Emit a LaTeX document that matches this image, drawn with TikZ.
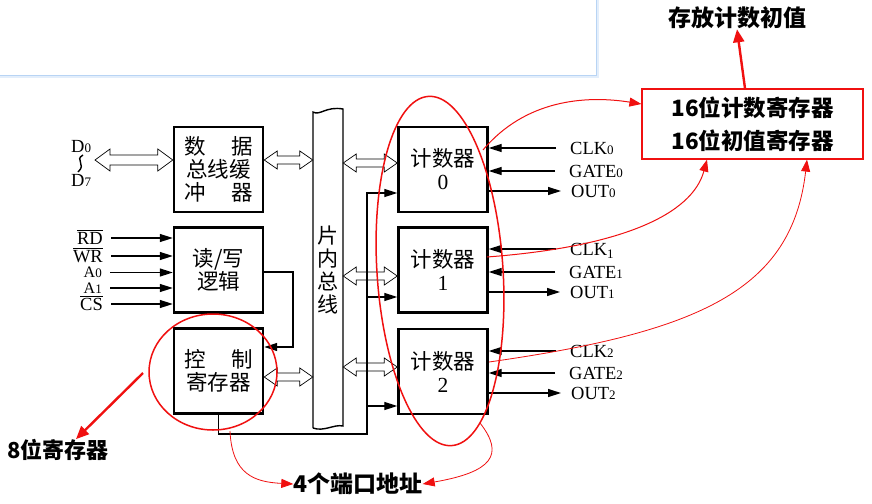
\documentclass[tikz,border=0pt]{standalone}
\usepackage{fontspec}
\setmainfont{Liberation Serif}
\newfontfamily\cjk{Noto Sans CJK SC}
\usetikzlibrary{arrows.meta,calc}
\definecolor{panelblue}{HTML}{B8D4F4}
\definecolor{myred}{HTML}{F01010}
\newcommand\sdig[1]{{\fontsize{13}{13}\selectfont #1}}
% #1 start, #2 end, #3 head length, #4 head half-height, #5 shaft half-height
\newcommand\dblarr[5]{%
  \draw[fill=white,line width=0.7pt] let \p1=#1, \p2=#2 in
   (\p1) -- ++(#3,#4) -- (\x1+#3,\y1+#5) -- (\x2-#3,\y1+#5) -- (\x2-#3,\y1+#4)
   -- (\x2,\y1) -- (\x2-#3,\y1-#4) -- (\x2-#3,\y1-#5) -- (\x1+#3,\y1-#5) -- (\x1+#3,\y1-#4) -- cycle;}
\begin{document}
\begin{tikzpicture}[x=1pt,y=-1pt,
  blk/.style={draw,line width=2.4pt,minimum width=89pt,minimum height=85pt,inner sep=0,
     font=\cjk\fontsize{21.5}{23}\selectfont,align=center},
  lab/.style={font=\fontsize{18.5}{18.5}\selectfont,inner sep=0,text height=12pt,text depth=0pt},
  arr/.style={line width=1.3pt,-{Triangle[length=13pt,width=8pt]}},
  redc/.style={myred,line width=1.5pt},
  redarr/.style={myred,line width=1pt,-{Triangle[length=12pt,width=9pt]}},
  redthick/.style={myred,line width=2.4pt,-{Triangle[length=13pt,width=11pt]}},
  note/.style={font=\cjk\bfseries\fontsize{23}{26}\selectfont,inner sep=0}]
\useasboundingbox (0,0) rectangle (872,503);
\fill[white] (0,0) rectangle (872,503);
% top panel
\fill[panelblue!40] (-5,-5) rectangle (599,78);
\draw[panelblue,fill=white,line width=1pt] (-5,-5) rectangle (596,75);

% left blocks
\node[blk] (buf) at (218.5,169.5) {\makebox[3.2em]{数\hfill 据}\\总线缓\\\makebox[3.2em]{冲\hfill 器}};
\node[blk] (rw) at (218.5,270) {读/写\\逻辑};
\node[blk] (ctrl) at (218.5,371) {\makebox[3.2em]{控\hfill 制}\\寄存器};
% counters
\node[blk] (c0) at (443,169.5) {计数器\\{\rmfamily 0}};
\node[blk] (c1) at (443,270) {计数器\\{\rmfamily 1}};
\node[blk] (c2) at (443,371.5) {计数器\\{\rmfamily 2}};

% bus
\node[minimum width=30pt,minimum height=316pt,inner sep=0] (bus) at (328,270) {};
\draw[line width=1.4pt,fill=white] (313,428) -- (313,112) .. controls (320,116) and (326,106) .. (343,109)
  -- (343,426) .. controls (334,424) and (324,432) .. (313,428);
\node[font=\cjk\fontsize{21}{23}\selectfont,align=center,inner sep=0] (bustext) at (bus) {片\\内\\总\\线};

% D0-D7
\node[lab,anchor=west] (d0) at (71,146) {D\sdig{0}};
\node[lab,anchor=west] (d7) at (71,180) {D\sdig{7}};
\draw[line width=1.4pt] (83,155) .. controls (74,160) and (87,164) .. (78,172);
\coordinate (dl) at (95,160);
\dblarr{(dl)}{(buf.west |- dl)}{15pt}{11pt}{5pt}

% hollow arrows to bus
\dblarr{(buf.east |- 0,160)}{(bus.west |- 0,160)}{13pt}{9pt}{4pt}
\dblarr{(ctrl.east |- 0,377)}{(bus.west |- 0,377)}{13pt}{9pt}{4pt}
\dblarr{(bus.east |- 0,163)}{(c0.west |- 0,163)}{13pt}{9pt}{4pt}
\dblarr{(bus.east |- 0,276)}{(c1.west |- 0,276)}{13pt}{9pt}{4pt}
\dblarr{(bus.east |- 0,367)}{(c2.west |- 0,367)}{13pt}{9pt}{4pt}

% input labels
\node[lab,anchor=east] (lrd) at (103,238) {$\overline{\mbox{RD}}$};
\node[lab,anchor=east] (lwr) at (103,256) {$\overline{\mbox{WR}}$};
\node[lab,anchor=east,font=\fontsize{16}{16}\selectfont,text height=10pt] (la0) at (102,272.5) {A\sdig{0}};
\node[lab,anchor=east,font=\fontsize{16}{16}\selectfont,text height=10pt] (la1) at (102,288) {A\sdig{1}};
\node[lab,anchor=east] (lcs) at (103,304) {$\overline{\mbox{CS}}$};
\foreach \n in {lrd,lwr,la0,la1,lcs}
  \draw[arr] ([xshift=8pt]\n.east) -- (rw.west |- \n.east);

% rw -> ctrl
\coordinate (k1) at (293,272);
\coordinate (k2) at (293,347);
\draw[arr] (rw.east |- k1) -- (k1) -- (k2) -- (ctrl.east |- k2);

% ctrl bottom line to counters
\coordinate (b1) at (367,434);
\coordinate (b0) at (367,193);
\draw[arr] (ctrl.south) -- (ctrl.south |- b1) -- (b1) -- (b0) -- (c0.west |- b0);
\draw[arr] (367,297) -- (c1.west |- 0,297);
\draw[arr] (368,406) -- (c2.west |- 0,406);

% right labels
\node[lab,anchor=west] (clk0) at (570,148) {CLK\sdig{0}};
\node[lab,anchor=west] (gate0) at (569,171) {GATE\sdig{0}};
\node[lab,anchor=west] (out0) at (571,191) {OUT\sdig{0}};
\node[lab,anchor=west] (clk1) at (570,249) {CLK\raisebox{-3pt}{\sdig{1}}};
\node[lab,anchor=west] (gate1) at (569,272) {GATE\sdig{1}};
\node[lab,anchor=west] (out1) at (570,292) {OUT\sdig{1}};
\node[lab,anchor=west] (clk2) at (570,351) {CLK\sdig{2}};
\node[lab,anchor=west] (gate2) at (569,373) {GATE\sdig{2}};
\node[lab,anchor=west] (out2) at (571,393) {OUT\sdig{2}};
\foreach \c/\g/\o/\k in {clk0/gate0/out0/c0,clk1/gate1/out1/c1,clk2/gate2/out2/c2}{
  \draw[arr] ([xshift=-14pt]\c.west) -- (\k.east |- \c.west);
  \draw[arr] ([xshift=-14pt]\g.west) -- (\k.east |- \g.west);
  \draw[arr] (\k.east |- \o.west) -- ([xshift=-10pt]\o.west);
}

% red annotations
\node[draw=myred,line width=1.2pt,minimum width=221pt,minimum height=70pt,inner sep=0,
  font=\cjk\bfseries\fontsize{22.5}{33}\selectfont,align=center] (reg) at (752.5,124)
  {16位计数寄存器\\16位初值寄存器};
\node[note] (top) at (737,18) {存放计数初值};
\draw[redthick] (reg.north -| 745,0) -- (top.south -| 737,0);

\draw[redc,rotate around={3.8:(440,271)}] (440,271) ellipse [x radius=63,y radius=175];
\draw[redc] (213,372) ellipse [x radius=64,y radius=58];

\node[note,font=\cjk\bfseries\fontsize{22}{26}\selectfont] (eight) at (58,450) {8位寄存器};
\draw[redthick] (143,373) -- (eight.north -| 76,0);

\node[note] (four) at (358,484) {4个端口地址};

\coordinate (s0) at (483,150);
\coordinate (s1) at (487,257);
\coordinate (s2) at (489,362);
\draw[redarr] (s0) .. controls (525,100) and (585,95) .. (reg.west |- 0,104);
\draw[redarr] (s1) .. controls (620,247) and (692,215) .. (reg.south -| 707,0);
\draw[redarr,line width=0.8pt] (s2) .. controls (700,332) and (792,290) .. (reg.south -| 807,0);
\draw[redarr,line width=0.8pt] (230,431) .. controls (232,475) and (255,482) .. (four.west);
\draw[redarr,line width=0.8pt] (480,423) .. controls (505,455) and (492,472) .. (four.east);
\end{tikzpicture}
\end{document}
